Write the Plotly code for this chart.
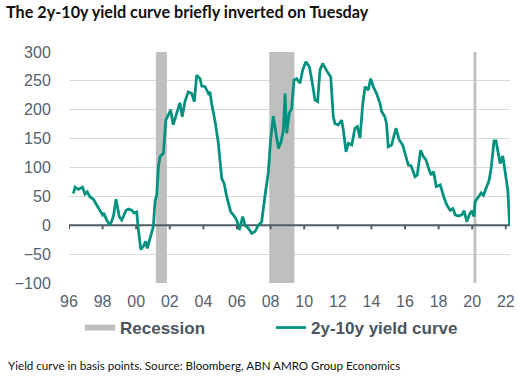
import plotly.graph_objects as go

# ---- data (decimal year, basis points) ----
years = [1996.26, 1996.36, 1996.55, 1996.8, 1996.95, 1997.09, 1997.25, 1997.45, 1997.65, 1997.85,
         1998.0, 1998.07, 1998.24, 1998.44, 1998.64, 1998.8, 1998.99, 1999.14, 1999.4, 1999.53,
         1999.73, 1999.87, 2000.03, 2000.12, 2000.27, 2000.42, 2000.56, 2000.66, 2000.78, 2000.92,
         2001.02, 2001.12, 2001.22, 2001.32, 2001.42, 2001.62, 2001.76, 2001.91, 2002.05, 2002.2,
         2002.41, 2002.6, 2002.74, 2002.9, 2003.1, 2003.3, 2003.46, 2003.6, 2003.8, 2003.9,
         2004.1, 2004.3, 2004.39, 2004.49, 2004.7, 2004.89, 2005.09, 2005.23, 2005.39, 2005.63,
         2005.78, 2005.98, 2006.14, 2006.34, 2006.48, 2006.67, 2006.88, 2007.07, 2007.27, 2007.47,
         2007.67, 2007.86, 2008.0, 2008.16, 2008.32, 2008.47, 2008.63, 2008.76, 2008.86, 2008.96,
         2009.11, 2009.25, 2009.39, 2009.55, 2009.75, 2009.91, 2010.1, 2010.3, 2010.44, 2010.64,
         2010.8, 2010.94, 2011.1, 2011.24, 2011.43, 2011.58, 2011.73, 2011.83, 2012.03, 2012.23,
         2012.33, 2012.49, 2012.63, 2012.83, 2013.02, 2013.16, 2013.32, 2013.48, 2013.62, 2013.81,
         2013.96, 2014.11, 2014.31, 2014.51, 2014.61, 2014.8, 2014.9, 2015.0, 2015.2, 2015.46,
         2015.65, 2015.86, 2016.06, 2016.2, 2016.36, 2016.6, 2016.73, 2016.93, 2017.09, 2017.25,
         2017.4, 2017.55, 2017.7, 2017.86, 2018.1, 2018.2, 2018.33, 2018.49, 2018.69, 2018.85,
         2018.99, 2019.18, 2019.38, 2019.52, 2019.68, 2019.83, 2019.97, 2020.11, 2020.17, 2020.37,
         2020.53, 2020.67, 2020.87, 2021.01, 2021.13, 2021.23, 2021.3, 2021.42, 2021.56, 2021.66,
         2021.82, 2021.96, 2022.06, 2022.12, 2022.23]
spread = [55, 66, 62, 66, 54, 58, 49, 45, 35, 26,
          18, 21, 9, 0, 15, 45, 15, 9, 26, 28,
          26, 21, 23, -5, -42, -37, -28, -40, -26, -13,
          -2, 41, 52, 101, 119, 125, 182, 191, 200, 174,
          194, 212, 188, 214, 231, 228, 214, 260, 254, 241,
          240, 228, 231, 211, 179, 142, 81, 73, 49, 23,
          18, 9, -8, 15, 0, -5, -14, -11, 0, 6,
          52, 90, 148, 189, 159, 133, 145, 165, 228, 159,
          194, 202, 251, 254, 246, 269, 283, 275, 254, 217,
          214, 269, 280, 272, 263, 257, 188, 176, 174, 182,
          165, 127, 142, 139, 168, 171, 151, 208, 240, 234,
          254, 240, 228, 211, 197, 188, 176, 136, 139, 168,
          148, 139, 119, 104, 103, 84, 87, 130, 119, 113,
          99, 87, 93, 67, 70, 58, 47, 35, 26, 29,
          18, 16, 18, 25, 6, 18, 25, 15, 41, 49,
          56, 52, 67, 78, 99, 130, 146, 146, 119, 107,
          120, 96, 78, 61, 0]

rec_start = [2001.17, 2007.92, 2020.08]
rec_end = [2001.83, 2009.42, 2020.25]

tick_years = list(range(1996, 2023, 2))
tick_text = ["96", "98", "00", "02", "04", "06", "08", "10", "12", "14", "16", "18", "20", "22"]
y_ticks = [-100, -50, 0, 50, 100, 150, 200, 250, 300]

X_RANGE = [1996, 2022.25]
Y_RANGE = [-100, 300]

TEAL = "#00917f"
GREY_BAND = "#bfbfbf"
AXIS_DARK = "#4f5d66"
TXT = "#56616b"
FONT = "Liberation Sans, Arial, sans-serif"

# recession polygons
rx, ry = [], []
for s, e in zip(rec_start, rec_end):
    rx += [s, e, e, s, s, None]
    ry += [Y_RANGE[0], Y_RANGE[0], Y_RANGE[1], Y_RANGE[1], Y_RANGE[0], None]

fig = go.Figure()
fig.add_trace(go.Scatter(x=rx, y=ry, fill="toself", fillcolor=GREY_BAND, mode="none",
                         name="Recession", hoverinfo="skip"))
fig.add_trace(go.Scatter(x=X_RANGE, y=[0, 0], mode="lines", line=dict(color=AXIS_DARK, width=2),
                         showlegend=False, hoverinfo="skip"))
fig.add_trace(go.Scatter(x=years, y=spread, mode="lines", line=dict(color=TEAL, width=2.75),
                         name="2y-10y yield curve"))

# small tick marks hanging below the zero line
for t in tick_years:
    fig.add_shape(type="line", xref="x", yref="y", x0=t, x1=t, y0=0, y1=-7,
                  line=dict(color=AXIS_DARK, width=2), layer="above")

fig.update_layout(
    width=526, height=379,
    margin=dict(l=69, r=16, t=52, b=96, autoexpand=False),
    paper_bgcolor="white", plot_bgcolor="white",
    font=dict(family=FONT, color=TXT, size=16),
    title=dict(text="<b>The 2y-10y yield curve briefly inverted on Tuesday</b>",
               x=6 / 526, xref="container", xanchor="left",
               y=1 - 12 / 379, yref="container", yanchor="middle",
               font=dict(family="Lato, sans-serif", size=16.2, color="#111111")),
    showlegend=True,
    legend=dict(orientation="h", x=(80 - 69) / 441, xanchor="left",
                y=-(328 - 283) / 231, yanchor="middle",
                font=dict(family=FONT, size=17, color="#4a5560", weight="bold"),
                entrywidth=146, bgcolor="rgba(0,0,0,0)"),
)
fig.update_xaxes(range=X_RANGE, tickvals=tick_years, ticktext=tick_text, showgrid=False,
                 zeroline=False, showline=False, ticks="outside", ticklen=4,
                 tickcolor="rgba(0,0,0,0)", tickfont=dict(size=16, color=TXT))
fig.update_yaxes(range=Y_RANGE, tickvals=y_ticks, showgrid=True, gridcolor="#d9d9d9", gridwidth=1,
                 zeroline=False, showline=False, ticks="outside", ticklen=14,
                 tickcolor="rgba(0,0,0,0)", tickfont=dict(size=16, color=TXT))

fig.add_annotation(text="Yield curve in basis points. Source: Bloomberg, ABN AMRO Group Economics",
                   xref="paper", yref="paper", x=(6 - 69) / 441, y=-(365 - 283) / 231,
                   xanchor="left", yanchor="middle", showarrow=False,
                   font=dict(family="Lato, sans-serif", size=11.6, color="#111111"))

fig.write_html("out.html", config={"displayModeBar": False},
               post_script="document.body.style.margin='0';")
